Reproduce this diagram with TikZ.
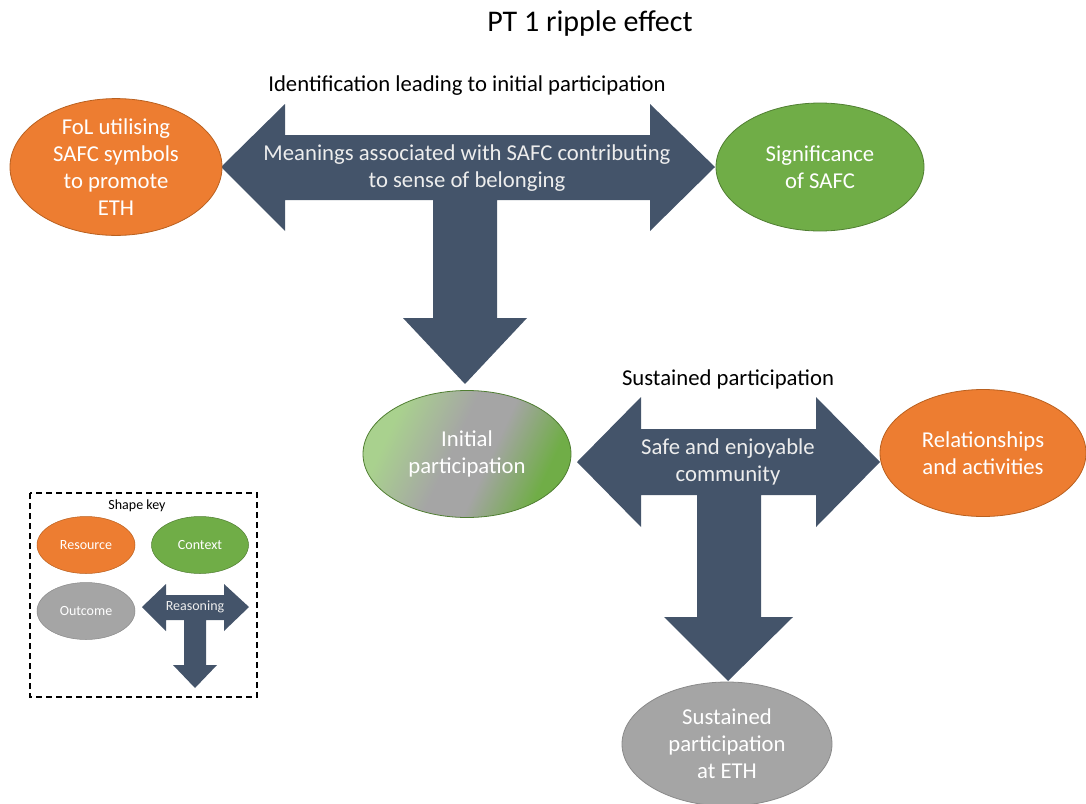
\documentclass[tikz,border=0pt]{standalone}
\usepackage{fontspec}
\setmainfont{Carlito}
\usetikzlibrary{shapes.geometric}
\definecolor{slate}{HTML}{44546A}
\definecolor{orng}{HTML}{ED7D31}
\definecolor{orngline}{HTML}{B9601F}
\definecolor{grn}{HTML}{70AD47}
\definecolor{grnline}{HTML}{507E32}
\definecolor{lgrn}{HTML}{A9D18E}
\definecolor{gry}{HTML}{A5A5A5}
\definecolor{gryline}{HTML}{8A8A8A}
\definecolor{arrowtext}{HTML}{EDEDED}
% light green fading through grey into green
\pgfdeclarehorizontalshading{greengrey}{100bp}{color(0bp)=(lgrn); color(28bp)=(lgrn);
  color(46bp)=(gry); color(56bp)=(gry); color(72bp)=(grn); color(100bp)=(grn)}
\tikzset{
  blob/.style={ellipse, line width=0.8pt, text=white, align=center, inner sep=0pt,
    font=\fontsize{22.7}{27}\selectfont},
  resource/.style={blob, fill=orng, draw=orngline},
  context/.style={blob, fill=grn, draw=grnline},
  outcome/.style={blob, fill=gry, draw=gryline},
  reasoning/.style={fill=slate},
  arrowlabel/.style={text=arrowtext, align=center, font=\fontsize{22.7}{27}\selectfont},
  heading/.style={text=black, font=\fontsize{22.7}{27}\selectfont},
  keyblob/.style={font=\fontsize{14}{16}\selectfont},
}
\begin{document}
\begin{tikzpicture}[x=1pt,y=-1pt]
\useasboundingbox (0,0) rectangle (1086,803);

\node[font=\fontsize{30}{36}\selectfont] (title) at (590,24) {PT 1 ripple effect};

% first reasoning step
\fill[reasoning] (221,167) -- (285,104) -- (285,135) -- (650,135) -- (650,104) -- (715,167)
  -- (650,231) -- (650,200) -- (497,200) -- (497,318) -- (527,318) -- (465,384)
  -- (403,318) -- (433,318) -- (433,200) -- (285,200) -- (285,231) -- cycle;
\node[heading] (lab1) at (467,86) {Identification leading to initial participation};
\node[arrowlabel] (mean) at (467,168) {Meanings associated with SAFC contributing\\to sense of belonging};

\node[resource, minimum width=212pt, minimum height=130pt] (fol) at (116,167)
  {FoL utilising\\SAFC symbols\\to promote\\ETH};
\node[context, minimum width=208pt, minimum height=128pt] (sig) at (820,167)
  {Significance\\of SAFC};

% second reasoning step
\fill[reasoning] (577,462) -- (641,397) -- (641,429) -- (816,429) -- (816,397) -- (880,462)
  -- (816,527) -- (816,495) -- (761,495) -- (761,617) -- (793,617) -- (728,681)
  -- (664,617) -- (697,617) -- (697,495) -- (641,495) -- (641,527) -- cycle;
\node[heading] (lab2) at (728,379) {Sustained participation};
\node[arrowlabel] (safe) at (728,462) {Safe and enjoyable\\community};

\node[blob, draw=grnline, minimum width=208pt, minimum height=127pt,
  shading=greengrey, shading angle=-25] (init) at (467,454)
  {Initial\\participation};
\node[resource, minimum width=206pt, minimum height=127pt] (rel) at (983,453)
  {Relationships\\and activities};
\node[outcome, minimum width=210pt, minimum height=124pt] (sus) at (727,744)
  {Sustained\\participation\\at ETH};

% shape key
\draw[dashed, line width=1.3pt, dash pattern=on 6pt off 4pt] (30,493) rectangle (257,697);
\node[keyblob] (keytitle) at (137,506) {Shape key};
\node[resource, keyblob, minimum width=98pt, minimum height=57pt, line width=0.5pt] (kres) at (86,545) {Resource};
\node[context, keyblob, minimum width=97pt, minimum height=57pt, line width=0.5pt] (kctx) at (200,545) {Context};
\node[outcome, keyblob, minimum width=98pt, minimum height=57pt, line width=0.5pt] (kout) at (86,611) {Outcome};
\fill[reasoning] (142,607) -- (166,584) -- (166,595) -- (224,595) -- (224,584) -- (249,607)
  -- (224,631) -- (224,620) -- (206,620) -- (206,665) -- (217,665) -- (195,688)
  -- (173,665) -- (184,665) -- (184,620) -- (166,620) -- (166,631) -- cycle;
\node[arrowlabel, keyblob] (kreas) at (195,607) {Reasoning};
\end{tikzpicture}
\end{document}
